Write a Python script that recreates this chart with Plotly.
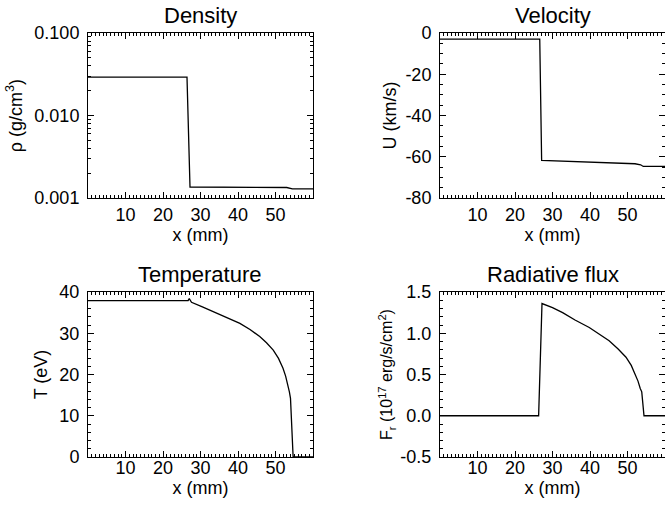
import plotly.graph_objects as go

# ---------------- data ----------------
dens_x = [0.0, 10.0, 20.0, 26.4, 27.2, 35.0, 45.0, 53.0, 54.5, 60.0]
dens_y = [0.0292, 0.0292, 0.0293, 0.0292, 0.00136, 0.00136, 0.00135, 0.00134, 0.00129, 0.00129]

vel_x = [0.0, 10.0, 20.0, 26.6, 27.1, 35.0, 45.0, 52.0, 53.5, 54.2, 60.0]
vel_y = [-3.0, -3.0, -3.0, -3.0, -61.8, -62.2, -62.8, -63.4, -63.9, -64.7, -64.7]

temp_x = [0.0, 10.0, 20.0, 26.7, 27.0, 27.6, 30.5, 33.4, 36.9, 40.5, 43.2, 45.8,
          47.6, 49.4, 50.8, 52.0, 52.7, 53.35, 53.7, 54.0, 54.25, 54.7, 60.0]
temp_y = [37.9, 37.9, 37.9, 37.9, 38.4, 37.5, 36.4, 35.2, 33.9, 32.4, 30.9, 29.2,
          27.7, 25.9, 23.9, 21.5, 19.6, 17.4, 15.8, 14.2, 9.3, 0.0, 0.0]

flux_x = [0.0, 10.0, 20.0, 26.3, 27.2, 30.0, 32.7, 36.0, 39.8, 42.5, 45.1, 47.5,
          49.6, 51.0, 52.2, 52.8, 53.4, 53.8, 54.4, 60.0]
flux_y = [0.0, 0.0, 0.0, 0.0, 1.36, 1.31, 1.25, 1.16, 1.07, 0.99, 0.91, 0.81,
          0.71, 0.61, 0.49, 0.42, 0.33, 0.29, 0.0, 0.0]

x_ticks = [10, 20, 30, 40, 50]
x_minor = [v for v in range(1, 60) if v % 10 != 0]
panel_titles = ["Density", "Velocity", "Temperature", "Radiative flux"]

dens_ticks = [0.001, 0.01, 0.1]
dens_ticktext = ["0.001", "0.010", "0.100"]
dens_minor = [0.002, 0.003, 0.004, 0.005, 0.006, 0.007, 0.008, 0.009,
              0.02, 0.03, 0.04, 0.05, 0.06, 0.07, 0.08, 0.09]
vel_ticks = [-80, -60, -40, -20, 0]
vel_ticktext = ["-80", "-60", "-40", "-20", "0"]
temp_ticks = [0, 10, 20, 30, 40]
temp_ticktext = ["0", "10", "20", "30", "40"]
flux_ticks = [-0.5, 0.0, 0.5, 1.0, 1.5]
flux_ticktext = ["-0.5", "0.0", "0.5", "1.0", "1.5"]

FONT = "Liberation Sans, Arial, Helvetica, sans-serif"
TICKF = 18
TITLEF = 22

W, H = 665, 506
# panel boxes in pixels: (left, right, top, bottom)
boxes = [
    (88, 313, 33, 198),
    (440, 666, 33, 198),
    (88, 313, 292, 457),
    (440, 666, 292, 457),
]
x_label_standoff = [0, 0, -6, -6]

def dom(b):
    l, r, t, btm = b
    return [l / W, min(r / W, 1.0)], [1 - btm / H, 1 - t / H]

fig = go.Figure()

series = [(dens_x, dens_y), (vel_x, vel_y), (temp_x, temp_y), (flux_x, flux_y)]
for i, (xs, ys) in enumerate(series):
    fig.add_trace(go.Scatter(x=xs, y=ys, mode="lines",
                             line=dict(color="black", width=1.3),
                             xaxis=f"x{i+1}", yaxis=f"y{i+1}",
                             showlegend=False, hoverinfo="skip"))

def minor_lin(d):
    return dict(tickmode="linear", tick0=0, dtick=d, ticks="inside", ticklen=3,
                tickwidth=1, tickcolor="black", showgrid=False)

common_axis = dict(showline=True, linecolor="black", linewidth=1, mirror="allticks",
                   ticks="inside", ticklen=6, tickwidth=1, tickcolor="black",
                   showgrid=False, zeroline=False, tickmode="array",
                   tickfont=dict(family=FONT, size=TICKF, color="black"))

yaxes = [
    dict(type="log", range=[-3, -1], tickvals=dens_ticks, ticktext=dens_ticktext,
         minor=dict(tickmode="array", tickvals=dens_minor, ticks="inside", ticklen=3,
                    tickwidth=1, tickcolor="black", showgrid=False),
         title=dict(text="ρ (g/cm<sup>3</sup>)", standoff=7,
                    font=dict(family=FONT, size=TICKF, color="black"))),
    dict(range=[-80, 0], tickvals=vel_ticks, ticktext=vel_ticktext,
         minor=minor_lin(5),
         title=dict(text="U (km/s)", standoff=4,
                    font=dict(family=FONT, size=TICKF, color="black"))),
    dict(range=[0, 40], tickvals=temp_ticks, ticktext=temp_ticktext,
         minor=minor_lin(2),
         title=dict(text="T (eV)", standoff=7,
                    font=dict(family=FONT, size=TICKF, color="black"))),
    dict(range=[-0.5, 1.5], tickvals=flux_ticks, ticktext=flux_ticktext,
         minor=minor_lin(0.1),
         title=dict(text="F<sub>r</sub> (10<sup>17</sup> erg/s/cm<sup>2</sup>)", standoff=3,
                    font=dict(family=FONT, size=16, color="black"))),
]

layout = dict(template="none", width=W, height=H, margin=dict(l=0, r=0, t=0, b=0),
              paper_bgcolor="white", plot_bgcolor="white",
              font=dict(family=FONT, size=TICKF, color="black"))

annotations = []
for i, b in enumerate(boxes):
    xd, yd = dom(b)
    xa = dict(common_axis, domain=xd, range=[0, 60], tickvals=x_ticks,
              ticktext=[str(v) for v in x_ticks],
              anchor=f"y{i+1}", ticklabelstandoff=x_label_standoff[i],
              minor=dict(tickmode="array", tickvals=x_minor, ticks="inside", ticklen=3,
                         tickwidth=1, tickcolor="black", showgrid=False),
              title=dict(text="x (mm)", standoff=1,
                         font=dict(family=FONT, size=TICKF, color="black")))
    ya = dict(common_axis, domain=yd, anchor=f"x{i+1}", ticklabelstandoff=4)
    ya.update(yaxes[i])
    sfx = "" if i == 0 else str(i + 1)
    layout[f"xaxis{sfx}"] = xa
    layout[f"yaxis{sfx}"] = ya
    annotations.append(dict(text=panel_titles[i], xref="paper", yref="paper",
                            x=(b[0] + b[1]) / 2 / W, y=yd[1], yshift=3,
                            xanchor="center", yanchor="bottom", showarrow=False,
                            font=dict(family=FONT, size=TITLEF, color="black")))

layout["annotations"] = annotations
fig.update_layout(**layout)
fig.write_html("out.html")
